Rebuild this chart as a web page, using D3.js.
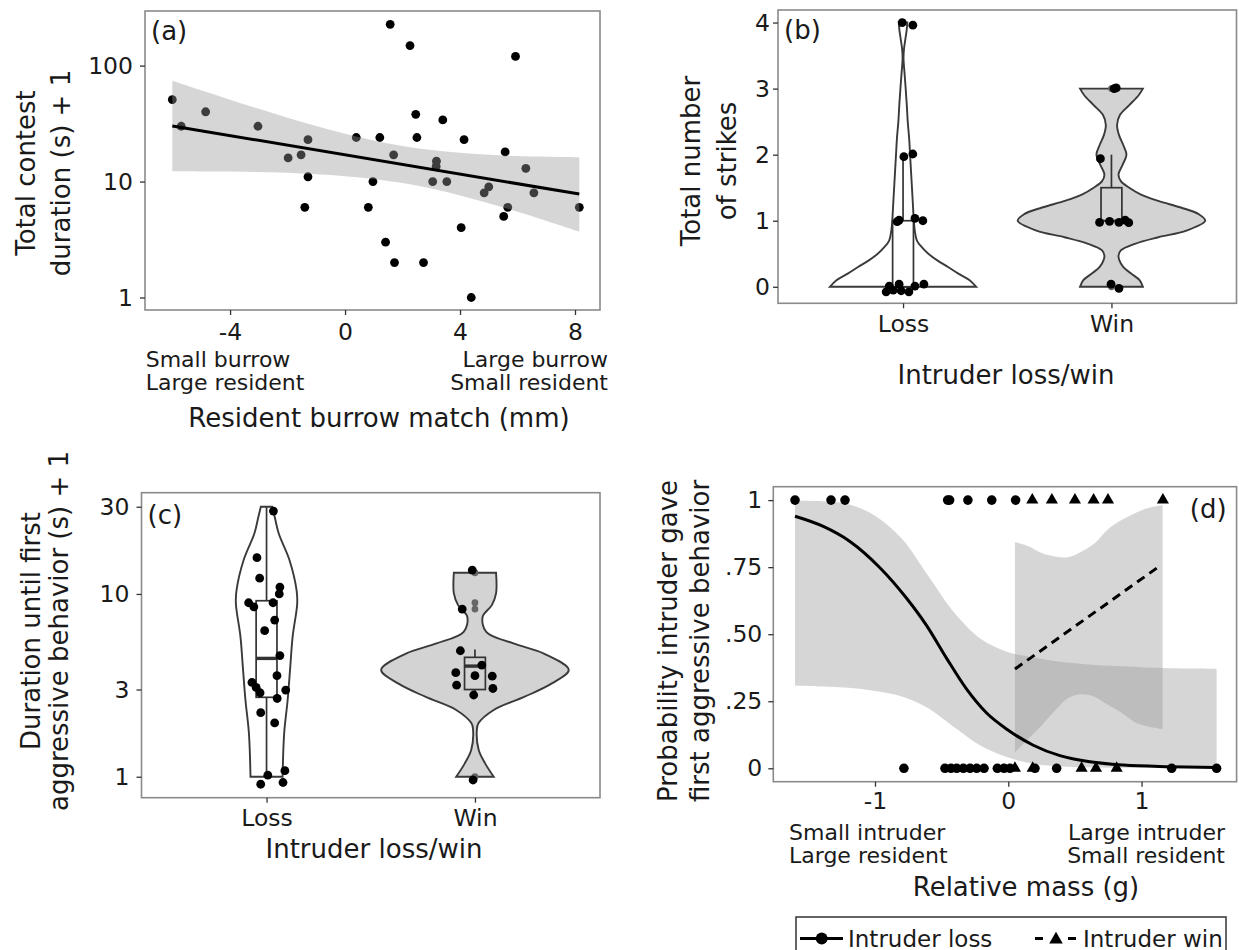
<!doctype html>
<html>
<head>
<meta charset="utf-8">
<title>Intruder contests</title>
<script src="https://cdnjs.cloudflare.com/ajax/libs/d3/7.8.5/d3.min.js"></script>
<style>
  body { margin: 0; background: #fff; }
  svg { display: block; }
  text { font-family: "DejaVu Sans", sans-serif; fill: #1a1a1a; }
</style>
</head>
<body>
<svg width="1239" height="950"></svg>
<script>
// ---- (a) contest duration vs resident burrow match ----
var aMatch    = [-6.01,-5.70,-4.85,-3.03,-1.98,-1.53,-1.29,-1.29,-1.40,1.57,2.26,5.93,0.39,1.21,0.97,0.81,1.69,1.41,1.72,2.73,2.46,2.50,3.40,3.18,3.17,3.05,3.54,4.14,4.04,4.39,4.84,5.00,5.57,5.52,5.66,6.29,6.57,8.15];
var aDuration = [51,30,40,30,16,17,23,11,6,227,149,120,24,24,10,6,17,3,2,2,38,24,34,15,13.5,10,10,23,4,1,8,9,18,5,6,13,8,6];
var aFitX = [-6.01, 8.15];
var aFitY = [30.2, 7.8];
var aBandX  = [-6.01, -4, -2, 0, 2, 4, 6, 8.15];
var aBandLo = [12.3, 12.2, 11.9, 11.1, 9.7, 7.6, 5.5, 3.7];
var aBandHi = [74.1, 50.9, 35.6, 25.9, 20.3, 17.7, 16.6, 16.2];
var aTicksX = [-4, 0, 4, 8];
var aTicksY = [1, 10, 100];

// ---- (b) number of strikes ----
var categories = ["Loss", "Win"];
var bTicksY = [0, 1, 2, 3, 4];
var bLossViolinY = [0,0.1,0.2,0.3,0.4,0.5,0.6,0.7,0.85,1,1.25,1.5,1.75,2,2.25,2.5,2.75,3,3.25,3.45,3.6,3.75,3.9,4];
var bLossViolinW = [0.78,0.71,0.59,0.48,0.365,0.27,0.2,0.148,0.125,0.115,0.105,0.095,0.085,0.075,0.065,0.05,0.04,0.028,0.015,0.005,0.01,0.025,0.04,0.045];
var bWinViolinY = [0,0.1,0.2,0.3,0.4,0.47,0.55,0.65,0.75,0.85,1,1.1,1.2,1.3,1.4,1.5,1.6,1.7,1.85,2,2.15,2.3,2.45,2.6,2.75,2.9,3];
var bWinViolinW = [0.335,0.3,0.21,0.125,0.085,0.075,0.1,0.25,0.5,0.8,1,0.93,0.74,0.5,0.31,0.19,0.1,0.075,0.12,0.16,0.125,0.08,0.06,0.09,0.19,0.29,0.335];
var bLossBox = [0, 0, 0, 1, 2];     // low, q1, median, q3, high
var bWinBox  = [1, 1, 1, 1.5, 2];
var bLossOutliers = [4];
var bWinOutliers  = [0, 3];
var bLossStrikes = [4,4,2,2,1,1,1,1,0,0,0,0,0,0,0,0];
var bLossJx = [-0.004,0.047,0.004,0.047,-0.028,-0.019,0.057,0.095,-0.081,-0.066,-0.047,-0.019,-0.009,0.028,0.057,0.1];
var bLossJy = [0,-0.04,-0.03,0.01,-0.015,0.01,0.035,0,-0.076,0.01,-0.05,0.04,-0.06,-0.076,0.01,0.04];
var bWinStrikes = [3,3,2,1,1,1,1,1,0,0];
var bWinJx = [0.013,0.023,-0.053,-0.057,-0.009,0.036,0.066,0.083,-0.002,0.036];
var bWinJy = [0,0.01,-0.06,-0.025,-0.01,-0.025,0.01,-0.03,0.04,-0.025];

// ---- (c) duration until first aggressive behaviour ----
var cTicksY = [1, 3, 10, 30];
var cLossViolinY = [1, 1.73, 2.63, 4.0, 5.83, 8.87, 10.5, 15.3, 21.4, 26, 30];
var cLossViolinW = [0.171, 0.188, 0.225, 0.253, 0.278, 0.327, 0.32, 0.245, 0.13, 0.09, 0.061];
var cWinViolinY = [1, 1.18, 1.4, 1.8, 1.96, 2.32, 2.74, 3.24, 3.84, 4.73, 5.36, 6.21, 7.5, 8.69, 10.07, 13.06];
var cWinViolinW = [0.2, 0.11, 0.04, 0.02, 0.037, 0.2, 0.53, 0.82, 1.0, 0.73, 0.41, 0.12, 0.082, 0.18, 0.225, 0.225];
var cLossBox = [1, 2.72, 4.44, 9.18, 30];
var cWinBox  = [2.85, 3.0, 4.03, 4.5, 4.97];
var cLossOutliers = [];
var cWinOutliers  = [13.06, 8.95, 8.27, 1.0];
var cLossDelay = [28.4,15.8,12.2,10.9,10.0,8.95,8.5,8.95,7.2,6.3,4.6,3.57,3.28,3.08,2.88,2.98,2.68,2.24,1.97,1.02,1.08,0.91,0.93];
var cLossJx = [0.033,-0.046,-0.033,0.064,0.061,-0.086,-0.061,0.031,0.039,-0.009,0.064,0.05,-0.07,-0.05,-0.031,0.092,0.051,-0.028,0.039,0.006,0.088,-0.028,0.079];
var cWinDelay = [13.5,8.27,4.89,4.08,3.71,3.57,3.55,3.17,3.04,2.8,0.96];
var cWinJx = [-0.013,-0.061,-0.07,0.033,-0.092,0,0.083,-0.088,0.086,-0.006,-0.009];

// ---- (d) probability intruder gave first aggressive behaviour ----
var dTicksX = [-1, 0, 1];
var dTicksY = [0, 0.25, 0.5, 0.75, 1];
var dTickLabelsY = ["0", ".25", ".50", ".75", "1"];
var dLossMass1 = [-1.6, -1.33, -1.225, -0.455, -0.44, -0.303, -0.124, 0.055];
var dLossMass0 = [-0.783, -0.475, -0.43, -0.387, -0.337, -0.287, -0.237, -0.182, -0.082, -0.032, 0.013, 0.2, 0.363, 1.226, 1.563];
var dWinMass1 = [0.18, 0.327, 0.5, 0.64, 0.748, 1.16];
var dWinMass0 = [0.05, 0.183, 0.55, 0.658, 0.813];
var dLossFitX = [-1.6, -1.388, -1.188, -0.963, -0.763, -0.6125, -0.4625, -0.3125, -0.1625, 0, 0.1875, 0.3875, 0.6125, 0.8625, 1.2125, 1.563];
var dLossFitY = [0.94, 0.902, 0.846, 0.748, 0.634, 0.532, 0.41, 0.295, 0.206, 0.142, 0.086, 0.047, 0.024, 0.012, 0.006, 0.003];
var dLossBandX  = [-1.6, -1.4, -1.2, -1.0, -0.8, -0.6, -0.4, -0.2, 0, 0.2, 0.4, 0.6, 0.8, 1.0, 1.2, 1.4, 1.563];
var dLossBandHi = [0.998, 0.996, 0.985, 0.942, 0.857, 0.717, 0.577, 0.48, 0.433, 0.412, 0.396, 0.387, 0.381, 0.377, 0.373, 0.372, 0.371];
var dLossBandLo = [0.308, 0.305, 0.3, 0.288, 0.268, 0.224, 0.151, 0.082, 0.04, 0.016, 0.007, 0.004, 0.002, 0.002, 0.001, 0.001, 0.001];
var dWinFitX = [0.05, 1.1325];
var dWinFitY = [0.37, 0.753];
var dWinBandX  = [0.05, 0.15, 0.25, 0.35, 0.45, 0.55, 0.65, 0.75, 0.85, 0.95, 1.05, 1.158];
var dWinBandHi = [0.844, 0.828, 0.803, 0.79, 0.787, 0.808, 0.84, 0.892, 0.926, 0.951, 0.971, 0.981];
var dWinBandLo = [0.059, 0.11, 0.16, 0.215, 0.262, 0.276, 0.266, 0.236, 0.207, 0.172, 0.156, 0.146];
var legendLabels = ["Intruder loss", "Intruder win"];

var svg = d3.select("svg");
var TICK = 23.5, TITLE = 26, SUB = 22;

function frame(b) {
  svg.append("rect")
    .attr("x", b.left).attr("y", b.top)
    .attr("width", b.right - b.left).attr("height", b.bottom - b.top)
    .attr("fill", "none").attr("stroke", "#8a8a8a").attr("stroke-width", 1.6);
}

function drawAxis(axis, x, y, pad) {
  var g = svg.append("g")
    .attr("transform", "translate(" + x + "," + y + ")")
    .call(axis.tickSize(5).tickPadding(pad));
  g.attr("font-size", TICK).attr("font-family", null);
  g.select(".domain").remove();
  g.selectAll(".tick line").attr("stroke", "#333").attr("stroke-width", 1.3);
  g.selectAll(".tick text").attr("fill", "#1a1a1a");
  return g;
}

function label(t, x, y, size, anchor) {
  return svg.append("text").attr("x", x).attr("y", y)
    .attr("font-size", size).attr("text-anchor", anchor || "start").text(t);
}

// two-line annotation under an x axis, kept in one text element
function subLabel(lines, x, y, anchor) {
  var t = svg.append("text").attr("x", x).attr("y", y)
    .attr("font-size", SUB).attr("text-anchor", anchor);
  lines.forEach(function(s, i) {
    t.append("tspan").attr("x", x).attr("dy", i ? 22.5 : 0).text(s);
  });
}

function yTitle(lines, x0, gap, yc) {
  lines.forEach(function(t, i) {
    svg.append("text")
      .attr("transform", "translate(" + (x0 + i * gap) + "," + yc + ") rotate(-90)")
      .attr("text-anchor", "middle").attr("font-size", TITLE).text(t);
  });
}

function violin(xs, ys, cat, vy, vw, fill) {
  var half = 0.45 * xs.step();
  var area = d3.area().curve(d3.curveCatmullRom)
    .y(function(d) { return ys(d[0]); })
    .x0(function(d) { return xs(cat) - d[1] * half; })
    .x1(function(d) { return xs(cat) + d[1] * half; });
  svg.append("path").datum(d3.zip(vy, vw)).attr("d", area)
    .attr("fill", fill).attr("stroke", "#3a3a3a").attr("stroke-width", 1.9);
}

function boxplot(xs, ys, cat, st, fill, outliers, medWidth) {
  var cx = xs(cat), hw = 0.05 * xs.step();
  var g = svg.append("g").attr("stroke", "#333").attr("stroke-width", 1.7);
  g.append("line").attr("x1", cx).attr("x2", cx).attr("y1", ys(st[3])).attr("y2", ys(st[4]));
  g.append("line").attr("x1", cx).attr("x2", cx).attr("y1", ys(st[0])).attr("y2", ys(st[1]));
  g.append("rect").attr("x", cx - hw).attr("width", 2 * hw)
    .attr("y", ys(st[3])).attr("height", ys(st[1]) - ys(st[3])).attr("fill", fill);
  g.append("line").attr("x1", cx - hw).attr("x2", cx + hw)
    .attr("y1", ys(st[2])).attr("y2", ys(st[2])).attr("stroke-width", medWidth);
  svg.append("g").selectAll("circle").data(outliers).join("circle")
    .attr("cx", cx).attr("cy", function(d) { return ys(d); }).attr("r", 3.4).attr("fill", "#666");
}

function dots(xs, ys, cat, vals, jx, jy) {
  svg.append("g").selectAll("circle").data(vals).join("circle")
    .attr("cx", function(d, i) { return xs(cat) + jx[i] * xs.step(); })
    .attr("cy", function(d, i) { return ys(d + (jy ? jy[i] : 0)); })
    .attr("r", 4.4).attr("fill", "#000");
}

function signed(d) { return d < 0 ? "-" + (-d) : String(d); }

// ================= panel (a) =================
var A = {left: 145, top: 11, right: 600, bottom: 310};
var ax = d3.scaleLinear().domain([-6.96, 8.87]).range([A.left, A.right]);
var ay = d3.scaleLog().domain([0.78, 296]).range([A.bottom, A.top]);

svg.append("g").selectAll("circle").data(d3.zip(aMatch, aDuration)).join("circle")
  .attr("cx", function(d) { return ax(d[0]); })
  .attr("cy", function(d) { return ay(d[1]); })
  .attr("r", 4.4).attr("fill", "#000");
svg.append("path").datum(d3.zip(aBandX, aBandLo, aBandHi))
  .attr("d", d3.area().curve(d3.curveCatmullRom)
    .x(function(d) { return ax(d[0]); })
    .y0(function(d) { return ay(d[1]); })
    .y1(function(d) { return ay(d[2]); }))
  .attr("fill", "#999").attr("fill-opacity", 0.4);
svg.append("path").datum(d3.zip(aFitX, aFitY))
  .attr("d", d3.line().x(function(d) { return ax(d[0]); }).y(function(d) { return ay(d[1]); }))
  .attr("fill", "none").attr("stroke", "#000").attr("stroke-width", 3);
frame(A);
drawAxis(d3.axisLeft(ay).tickValues(aTicksY).tickFormat(d3.format("d")), A.left, 0, 7);
drawAxis(d3.axisBottom(ax).tickValues(aTicksX).tickFormat(signed), 0, A.bottom, 8);
label("(a)", A.left + 6, A.top + 29, TITLE);
subLabel(["Small burrow", "Large resident"], 145.7, 367, "start");
subLabel(["Large burrow", "Small resident"], 608, 367, "end");
label("Resident burrow match (mm)", 379, 427, TITLE, "middle");
yTitle(["Total contest", "duration (s) + 1"], 34.5, 35, 173);

// ================= panel (b) =================
var B = {left: 778, top: 10, right: 1236.5, bottom: 303.3};
var bx = d3.scalePoint().domain(categories).range([B.left, B.right]).padding(0.6);
var by = d3.scaleLinear().domain([-0.25, 4.19]).range([B.bottom, B.top]);

violin(bx, by, "Loss", bLossViolinY, bLossViolinW, "#fff");
violin(bx, by, "Win", bWinViolinY, bWinViolinW, "#d3d3d3");
boxplot(bx, by, "Loss", bLossBox, "#fff", bLossOutliers, 1.7);
boxplot(bx, by, "Win", bWinBox, "#d3d3d3", bWinOutliers, 1.7);
dots(bx, by, "Loss", bLossStrikes, bLossJx, bLossJy);
dots(bx, by, "Win", bWinStrikes, bWinJx, bWinJy);
frame(B);
drawAxis(d3.axisLeft(by).tickValues(bTicksY).tickFormat(d3.format("d")), B.left, 0, 3);
drawAxis(d3.axisBottom(bx), 0, B.bottom, 7);
label("(b)", B.left + 6, B.top + 29, TITLE);
label("Intruder loss/win", 1006, 384, TITLE, "middle");
yTitle(["Total number", "of strikes"], 700, 36, 161);

// ================= panel (c) =================
var C = {left: 141.5, top: 492.7, right: 600, bottom: 797.7};
var cx = d3.scalePoint().domain(categories).range([C.left, C.right]).padding(0.6);
var cy = d3.scaleLog().domain([0.768, 35.8]).range([C.bottom, C.top]);

violin(cx, cy, "Loss", cLossViolinY, cLossViolinW, "#fff");
violin(cx, cy, "Win", cWinViolinY, cWinViolinW, "#d3d3d3");
boxplot(cx, cy, "Loss", cLossBox, "#fff", cLossOutliers, 3.4);
boxplot(cx, cy, "Win", cWinBox, "#d3d3d3", cWinOutliers, 3.4);
dots(cx, cy, "Loss", cLossDelay, cLossJx);
dots(cx, cy, "Win", cWinDelay, cWinJx);
frame(C);
drawAxis(d3.axisLeft(cy).tickValues(cTicksY).tickFormat(d3.format("d")), C.left, 0, 7);
drawAxis(d3.axisBottom(cx), 0, C.bottom, 7);
label("(c)", C.left + 6, C.top + 31, TITLE);
label("Intruder loss/win", 374, 857.5, TITLE, "middle");
yTitle(["Duration until first", "aggressive behavior (s) + 1"], 40, 28, 631);

// ================= panel (d) =================
var D = {left: 773.3, top: 486.7, right: 1236.6, bottom: 781.7};
var dx = d3.scaleLinear().domain([-1.763, 1.713]).range([D.left, D.right]);
var dy = d3.scaleLinear().domain([-0.05, 1.05]).range([D.bottom, D.top]);

function band(xv, lo, hi) {
  svg.append("path").datum(d3.zip(xv, lo, hi))
    .attr("d", d3.area().curve(d3.curveCatmullRom)
      .x(function(d) { return dx(d[0]); })
      .y0(function(d) { return dy(d[1]); })
      .y1(function(d) { return dy(d[2]); }))
    .attr("fill", "#999").attr("fill-opacity", 0.4);
}
band(dLossBandX, dLossBandLo, dLossBandHi);
band(dWinBandX, dWinBandLo, dWinBandHi);

var dLine = d3.line().curve(d3.curveMonotoneX)
  .x(function(d) { return dx(d[0]); }).y(function(d) { return dy(d[1]); });
svg.append("path").datum(d3.zip(dLossFitX, dLossFitY)).attr("d", dLine)
  .attr("fill", "none").attr("stroke", "#000").attr("stroke-width", 3);
svg.append("path").datum(d3.zip(dWinFitX, dWinFitY)).attr("d", dLine)
  .attr("fill", "none").attr("stroke", "#000").attr("stroke-width", 3).attr("stroke-dasharray", "9,6");

var circleSym = d3.symbol().type(d3.symbolCircle).size(72);
var triSym = d3.symbol().type(d3.symbolTriangle).size(64);
function marks(vals, yv, sym) {
  svg.append("g").selectAll("path").data(vals).join("path")
    .attr("transform", function(d) { return "translate(" + dx(d) + "," + dy(yv) + ")"; })
    .attr("d", sym).attr("fill", "#000");
}
marks(dLossMass1, 1, circleSym);
marks(dLossMass0, 0, circleSym);
marks(dWinMass1, 1, triSym);
marks(dWinMass0, 0, triSym);
frame(D);
drawAxis(d3.axisLeft(dy).tickValues(dTicksY).tickFormat(function(d, i) { return dTickLabelsY[i]; }), D.left, 0, 6);
drawAxis(d3.axisBottom(dx).tickValues(dTicksX).tickFormat(signed), 0, D.bottom, 6);
label("(d)", D.right - 10, D.top + 31, TITLE, "end");
subLabel(["Small intruder", "Large resident"], 789, 840, "start");
subLabel(["Large intruder", "Small resident"], 1225, 840, "end");
label("Relative mass (g)", 1026, 896, TITLE, "middle");
yTitle(["Probability intruder gave", "first aggressive behavior"], 677, 32, 641);

// legend
var L = {left: 796, top: 917, right: 1226};
svg.append("rect").attr("x", L.left).attr("y", L.top).attr("width", L.right - L.left).attr("height", 45)
  .attr("fill", "#fff").attr("stroke", "#333").attr("stroke-width", 1.5);
var ly = 938.5;
svg.append("line").attr("x1", 800).attr("x2", 843).attr("y1", ly).attr("y2", ly)
  .attr("stroke", "#000").attr("stroke-width", 3);
svg.append("path").attr("transform", "translate(821.7," + ly + ")")
  .attr("d", d3.symbol().type(d3.symbolCircle).size(110)).attr("fill", "#000");
label(legendLabels[0], 848, 946.5, 23);
svg.append("line").attr("x1", 1035).attr("x2", 1077).attr("y1", ly).attr("y2", ly)
  .attr("stroke", "#000").attr("stroke-width", 3).attr("stroke-dasharray", "8,25");
svg.append("path").attr("transform", "translate(1056," + (ly + 1) + ")")
  .attr("d", d3.symbol().type(d3.symbolTriangle).size(80)).attr("fill", "#000");
label(legendLabels[1], 1083, 946.5, 23);
</script>
</body>
</html>
